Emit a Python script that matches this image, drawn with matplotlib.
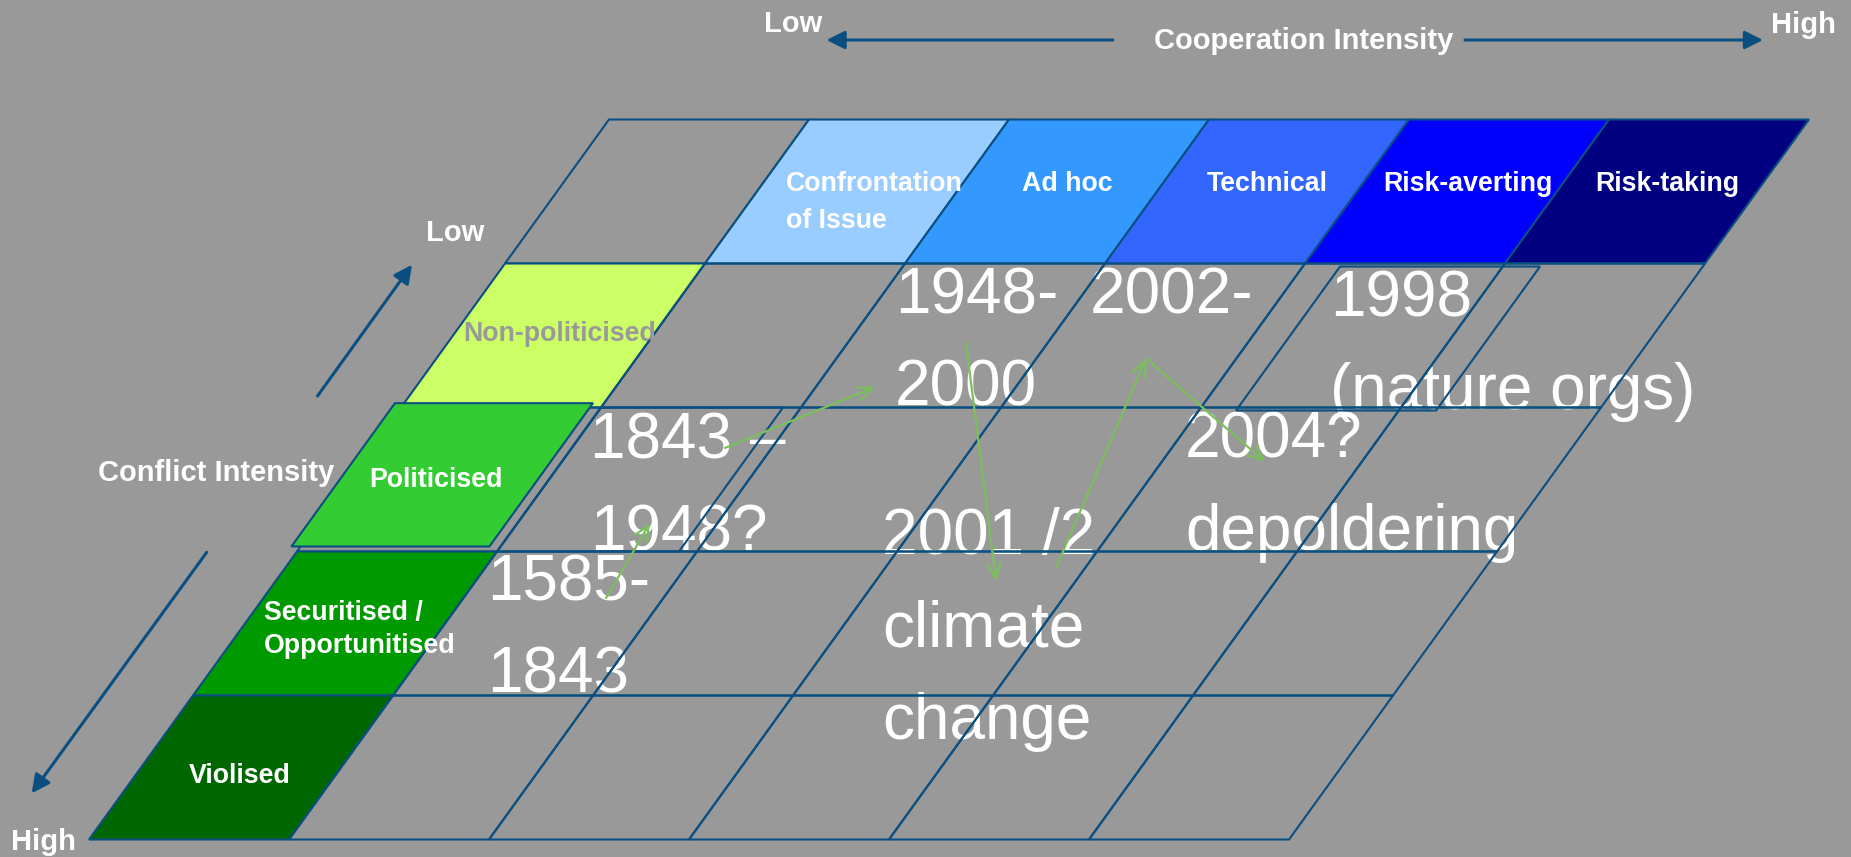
import matplotlib.pyplot as plt
from matplotlib.patches import Rectangle, FancyArrowPatch
from matplotlib.transforms import Affine2D

plt.rcParams['font.family'] = ['Liberation Sans', 'DejaVu Sans']

# --- data -------------------------------------------------------------
coop_labels = ['Confrontation\nof Issue', 'Ad hoc', 'Technical', 'Risk-averting', 'Risk-taking']
coop_colors = ['#99CCFF', '#3399FF', '#3366FF', '#0000FF', '#000080']

conflict_labels = ['Non-politicised', 'Politicised', 'Securitised /\nOpportunitised', 'Violised']
conflict_colors = ['#CCFF66', '#33CC33', '#009900', '#006600']
conflict_text_colors = ['#999999', 'white', 'white', 'white']

case_texts = ['1585-\n1843', '1843 \u2013\n1948?', '1948-\n2000', '2002-',
              '2001 /2\nclimate\nchange', '1998\n(nature orgs)', '2004?\ndepoldering']
# anchor of first line (grid units: column, row)
case_anchor = [(1.127, 3.340), (1.128, 2.351), (2.129, 1.344), (3.104, 1.344),
               (2.934, 3.017), (4.317, 1.369), (4.099, 2.344)]

# development path between the cases (grid units)
path_from = [(1.713, 3.323), (1.766, 2.281), (2.592, 1.552), (3.853, 3.111), (3.548, 1.659)]
path_to = [(1.662, 2.802), (2.296, 1.858), (3.602, 3.205), (3.548, 1.659), (4.517, 2.378)]

# --- figure -------------------------------------------------------------
W, H = 1851, 857
bg = '#999999'
line_c = '#0B4F80'
fig = plt.figure(figsize=(W / 100, H / 100), dpi=100, facecolor=bg)
ax = fig.add_axes([0, 0, 1, 1])
ax.set_xlim(0, W)
ax.set_ylim(H, 0)
ax.axis('off')
ax.set_facecolor(bg)

# skewed grid: (col, row) -> canvas pixels
grid = Affine2D().from_values(200, 0, -104, 144, 609, 119.5) + ax.transData

n_cols = len(coop_labels) + 1
n_rows = len(conflict_labels) + 1
for r in range(n_rows):
    for c in range(n_cols):
        face = 'none'
        if r == 0 and c > 0:
            face = coop_colors[c - 1]
        elif c == 0 and r > 0 and r != 2:
            face = conflict_colors[r - 1]
        ax.add_patch(Rectangle((c, r), 1, 1, transform=grid, facecolor=face,
                               edgecolor=line_c, lw=1.5, zorder=3))

# shifted boxes
ax.add_patch(Rectangle((-0.046, 1.97), 0.99, 0.995, transform=grid,
                       facecolor=conflict_colors[1], edgecolor=line_c, lw=1.5, zorder=4))
ax.add_patch(Rectangle((1, 2), 0.91, 1, transform=grid, facecolor='none',
                       edgecolor=line_c, lw=1.5, zorder=3))
ax.add_patch(Rectangle((4.186, 1.021), 1, 1, transform=grid, facecolor='none',
                       edgecolor=line_c, lw=1.5, zorder=3))


def put_lines(text, xy, tr, step, **kw):
    for i, line in enumerate(text.split('\n')):
        ax.annotate(line, xy=xy, xycoords=tr, xytext=(0, -i * step),
                    textcoords='offset pixels', va='baseline', **kw)


# header labels
for k, lab in enumerate(coop_labels):
    if k == 0:
        put_lines(lab, (1.142, 0.494), grid, 37, ha='left', fontsize=19.3,
                  fontweight='bold', color='white', zorder=5)
    else:
        put_lines(lab, (k + 1.55, 0.494), grid, 37, ha='center', fontsize=19.3,
                  fontweight='bold', color='white', zorder=5)

# conflict labels
conf_anchor = [(0.555, 1.538), (0.464, 2.552), (0.0815, 3.474), (0.551, 4.610)]
for k, lab in enumerate(conflict_labels):
    ha = 'left' if '\n' in lab else 'center'
    put_lines(lab, conf_anchor[k], grid, 33, ha=ha, fontsize=19.3,
              fontweight='bold', color=conflict_text_colors[k], zorder=5)

# case texts
for txt, xy in zip(case_texts, case_anchor):
    put_lines(txt, xy, grid, 92.5, ha='left', fontsize=46, color='white', zorder=2)

# path arrows
for a, b in zip(path_from, path_to):
    ax.add_patch(FancyArrowPatch(a, b, transform=grid, arrowstyle='->,head_length=1.0,head_width=0.45',
                                 mutation_scale=11, color='#7BBF5C', lw=1.6,
                                 shrinkA=0, shrinkB=0, zorder=6))

# axis arrows
arrow_kw = dict(arrowstyle='-|>,head_length=1.0,head_width=0.5', mutation_scale=11,
                color=line_c, lw=2.2, shrinkA=0, shrinkB=0, zorder=6)
ax.add_patch(FancyArrowPatch((1112.8, 40), (826.5, 40), **arrow_kw))
ax.add_patch(FancyArrowPatch((1465, 40), (1763, 40), **arrow_kw))
ax.add_patch(FancyArrowPatch((317.5, 396), (412, 264.7), **arrow_kw))
ax.add_patch(FancyArrowPatch((206.7, 552.3), (31.7, 793.3), **arrow_kw))

lab_kw = dict(fontsize=21, fontweight='bold', color='white', ha='center', va='baseline')
ax.text(793, 31.7, 'Low', **lab_kw)
ax.text(1303.5, 49.3, 'Cooperation Intensity', **lab_kw)
ax.text(1803, 33, 'High', **lab_kw)
ax.text(455.5, 240.7, 'Low', **lab_kw)
ax.text(216, 481, 'Conflict Intensity', **lab_kw)
ax.text(43, 850, 'High', **lab_kw)

fig.savefig('out.png', dpi=100, facecolor=bg)
